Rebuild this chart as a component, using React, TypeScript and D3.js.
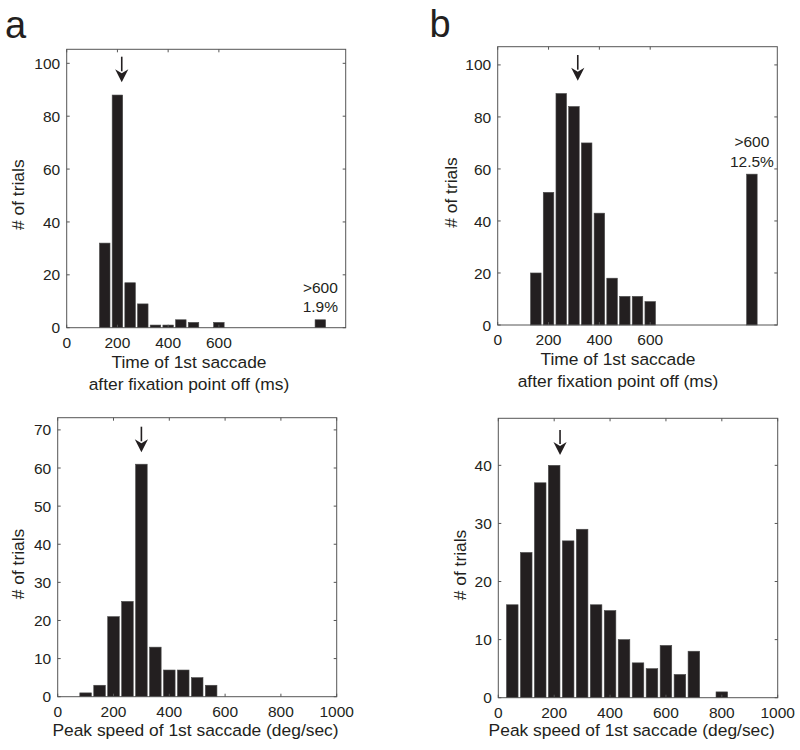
import React from "react";
import * as d3 from "d3";

// ---------- data ----------
const timeBins = [150, 200, 250, 300, 350, 400, 450, 500, 550, 600];
const timeCountsA = [32, 88, 17, 9, 1, 1, 3, 2, 0, 2];
const timeCountsB = [20, 51, 89, 84, 70, 43, 18, 11, 11, 9];
const overflowBin = 1000;
const overflowCountA = 3;
const overflowCountB = 58;
const overflowLabelsA = [">600", "1.9%"];
const overflowLabelsB = [">600", "12.5%"];

const speedBinsC = [100, 150, 200, 250, 300, 350, 400, 450, 500, 550];
const speedCountsC = [1, 3, 21, 25, 61, 13, 7, 7, 5, 3];
const speedBinsD = [50, 100, 150, 200, 250, 300, 350, 400, 450, 500, 550, 600, 650, 700, 750, 800];
const speedCountsD = [16, 25, 37, 40, 27, 29, 16, 15, 10, 6, 5, 9, 4, 8, 0, 1];

const timeTicks = [0, 200, 400, 600];
const speedTicks = [0, 200, 400, 600, 800, 1000];
const yTicksTime = [0, 20, 40, 60, 80, 100];
const yTicksC = [0, 10, 20, 30, 40, 50, 60, 70];
const yTicksD = [0, 10, 20, 30, 40];

const arrowA = 217;
const arrowB = 315;
const arrowC = 300;
const arrowD = 221;

const timeTitle = ["Time of 1st saccade", "after fixation point off (ms)"];
const speedTitle = ["Peak speed of 1st saccade (deg/sec)"];
const yTitle = "# of trials";
const panelLetters = ["a", "b"];

// ---------- styles ----------
const FONT = "'Liberation Sans', Arial, sans-serif";
const INK = "#231f20";
const AXIS = "#555";

type Cfg = {
  left: number; top: number; w: number; h: number;
  xMax: number; yMax: number;
  bins: number[]; counts: number[]; binWidth: number;
  xTicks: number[]; yTicks: number[];
  overflow?: { x: number; count: number; labels: string[] };
  arrowX: number; arrowTop: number; arrowTip: number;
  xTitle: string[]; xTitleX: number; xTitleY: number[];
  yTitleX: number; yTitleY: number;
};

const panels: Cfg[] = [
  {
    left: 66.7, top: 49.3, w: 279, h: 278.4, xMax: 1100, yMax: 105.3,
    bins: timeBins, counts: timeCountsA, binWidth: 50,
    xTicks: timeTicks, yTicks: yTicksTime,
    overflow: { x: overflowBin, count: overflowCountA, labels: overflowLabelsA },
    arrowX: arrowA, arrowTop: 7.4, arrowTip: 33,
    xTitle: timeTitle, xTitleX: 189, xTitleY: [367.7, 390],
    yTitleX: 24, yTitleY: 194.7,
  },
  {
    left: 497.7, top: 46.7, w: 279.6, h: 278.3, xMax: 1100, yMax: 107,
    bins: timeBins, counts: timeCountsB, binWidth: 50,
    xTicks: timeTicks, yTicks: yTicksTime,
    overflow: { x: overflowBin, count: overflowCountB, labels: overflowLabelsB },
    arrowX: arrowB, arrowTop: 8.3, arrowTip: 34,
    xTitle: timeTitle, xTitleX: 618, xTitleY: [364.5, 387],
    yTitleX: 456.7, yTitleY: 192.5,
  },
  {
    left: 57.7, top: 417.7, w: 279, h: 279, xMax: 1000, yMax: 73.2,
    bins: speedBinsC, counts: speedCountsC, binWidth: 50,
    xTicks: speedTicks, yTicks: yTicksC,
    arrowX: arrowC, arrowTop: 9, arrowTip: 34.6,
    xTitle: speedTitle, xTitleX: 195.5, xTitleY: [736.3],
    yTitleX: 24, yTitleY: 564,
  },
  {
    left: 498.3, top: 418.3, w: 279.4, h: 279.4, xMax: 1000, yMax: 48.1,
    bins: speedBinsD, counts: speedCountsD, binWidth: 50,
    xTicks: speedTicks, yTicks: yTicksD,
    arrowX: arrowD, arrowTop: 11.7, arrowTip: 36.7,
    xTitle: speedTitle, xTitleX: 631.7, xTitleY: [736.3],
    yTitleX: 465.7, yTitleY: 565,
  },
];

function Panel({ c }: { c: Cfg }) {
  const x = d3.scaleLinear().domain([0, c.xMax]).range([c.left, c.left + c.w]);
  const y = d3.scaleLinear().domain([0, c.yMax]).range([c.top + c.h, c.top]);
  const bottom = c.top + c.h;
  const right = c.left + c.w;
  const barW = 0.83 * (x(c.binWidth) - x(0));
  const tl = 3;
  const ax = x(c.arrowX);
  const tipY = c.top + c.arrowTip;
  const headH = 13;
  const headHalf = 6.6;

  return (
    <g>
      {c.bins.map((b, i) =>
        c.counts[i] > 0 ? (
          <rect key={"b" + i} x={x(b) - barW / 2} y={y(c.counts[i])} width={barW}
            height={bottom - y(c.counts[i])} fill={INK} stroke="#4a4a4a" strokeWidth={0.6} />
        ) : null
      )}
      {c.overflow && (
        <g>
          <rect x={x(c.overflow.x) - barW / 2} y={y(c.overflow.count)} width={barW}
            height={bottom - y(c.overflow.count)} fill={INK} stroke="#4a4a4a" strokeWidth={0.6} />
          {c.overflow.labels.map((t, i) => (
            <text key={t} x={x(c.overflow!.x)} y={y(c.overflow!.count) - 7.5 - (c.overflow!.labels.length - 1 - i) * 19.2}
              textAnchor="middle" fontSize={15.5} fontFamily={FONT} fill={INK}>{t}</text>
          ))}
        </g>
      )}
      <rect x={c.left} y={c.top} width={c.w} height={c.h} fill="none" stroke={AXIS} strokeWidth={1} />
      {c.xTicks.map((t) => (
        <g key={"xt" + t}>
          <line x1={x(t)} x2={x(t)} y1={bottom} y2={bottom - tl} stroke={AXIS} />
          <line x1={x(t)} x2={x(t)} y1={c.top} y2={c.top + tl} stroke={AXIS} />
          <text x={x(t)} y={bottom + 19.8} textAnchor="middle" fontSize={15.5} fontFamily={FONT} fill={INK}>{t}</text>
        </g>
      ))}
      {c.yTicks.map((t) => (
        <g key={"yt" + t}>
          <line x1={c.left} x2={c.left + tl} y1={y(t)} y2={y(t)} stroke={AXIS} />
          <line x1={right} x2={right - tl} y1={y(t)} y2={y(t)} stroke={AXIS} />
          <text x={c.left - 6.5} y={y(t)} dy="0.36em" textAnchor="end" fontSize={15.5} fontFamily={FONT} fill={INK}>{t}</text>
        </g>
      ))}
      <line x1={ax} x2={ax} y1={c.top + c.arrowTop} y2={tipY - headH + 2} stroke={INK} strokeWidth={1.6} />
      <path d={`M${ax},${tipY} L${ax - headHalf},${tipY - headH} L${ax},${tipY - headH + 4} L${ax + headHalf},${tipY - headH} Z`} fill={INK} />
      {c.xTitle.map((t, i) => (
        <text key={"xti" + i} x={c.xTitleX} y={c.xTitleY[i]} textAnchor="middle" fontSize={17.4} fontFamily={FONT} fill={INK}>{t}</text>
      ))}
      <text transform={`translate(${c.yTitleX},${c.yTitleY}) rotate(-90)`} textAnchor="middle"
        fontSize={17.4} fontFamily={FONT} fill={INK}>{yTitle}</text>
    </g>
  );
}

export default function App() {
  return (
    <svg width={800} height={750} viewBox="0 0 800 750"
      style={{ position: "absolute", left: 0, top: 0, background: "#fff" }}>
      <rect x={0} y={0} width={800} height={750} fill="#fff" />
      <text x={5} y={37.7} fontSize={38} fontFamily={FONT} fill={INK}>{panelLetters[0]}</text>
      <text x={429.5} y={37.3} fontSize={38} fontFamily={FONT} fill={INK}>{panelLetters[1]}</text>
      {panels.map((p, i) => <Panel key={i} c={p} />)}
    </svg>
  );
}
